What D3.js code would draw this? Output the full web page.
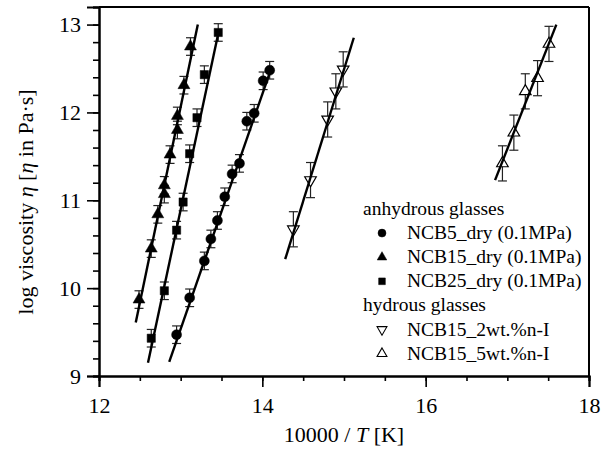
<!DOCTYPE html>
<html><head><meta charset="utf-8">
<script src="https://cdn.jsdelivr.net/npm/d3@7"></script>
<style>
html,body{margin:0;padding:0;background:#fff;}
text{font-family:"Liberation Serif","Times New Roman",serif;fill:#000;}
</style></head>
<body>
<svg id="chart" width="607" height="452"></svg>
<script>
// ---- data ----
const ncb5X  = [12.95,13.11,13.29,13.37,13.45,13.54,13.63,13.72,13.81,13.90,14.01,14.09];
const ncb5Y  = [9.47,9.89,10.31,10.56,10.77,11.04,11.30,11.42,11.90,11.99,12.36,12.48];
const ncb15X = [12.49,12.64,12.72,12.80,12.80,12.87,12.96,12.96,13.04,13.12];
const ncb15Y = [9.87,10.45,10.84,11.07,11.17,11.52,11.80,11.96,12.31,12.75];
const ncb25X = [12.64,12.80,12.95,13.03,13.11,13.20,13.29,13.46];
const ncb25Y = [9.43,9.97,10.66,10.98,11.53,11.94,12.43,12.91];
const h2X    = [14.38,14.59,14.80,14.90,14.99];
const h2Y    = [10.67,11.23,11.92,12.24,12.49];
const h5X    = [16.94,17.08,17.22,17.37,17.51];
const h5Y    = [11.42,11.77,12.24,12.39,12.78];
const errDry = 0.1;
const errHyd = 0.2;
// fitted lines: [x0,y0],[x1,y1]
const fit5   = [[12.86,9.16],[14.12,12.53]];
const fit15  = [[12.45,9.61],[13.21,13.00]];
const fit25  = [[12.60,9.15],[13.47,12.94]];
const fitH2  = [[14.28,10.33],[15.12,12.85]];
const fitH5  = [[16.85,11.23],[17.60,13.00]];
const xMajor = [12,14,16,18];
const yMajor = [9,10,11,12,13];
const legendLabels = ["anhydrous glasses","NCB5_dry (0.1MPa)","NCB15_dry (0.1MPa)","NCB25_dry (0.1MPa)","hydrous glasses","NCB15_2wt.%n-I","NCB15_5wt.%n-I"];

// ---- layout ----
const svg = d3.select("#chart");
const x = d3.scaleLinear().domain([12,18]).range([99,589]);
const y = d3.scaleLinear().domain([9,13.2]).range([376,7]);

// frame top/right
svg.append("line").attr("x1",x(12)).attr("x2",x(18)).attr("y1",y(13.2)).attr("y2",y(13.2)).attr("stroke","#000").attr("stroke-width",2);
svg.append("line").attr("x1",x(18)).attr("x2",x(18)).attr("y1",y(13.2)).attr("y2",y(9)).attr("stroke","#000").attr("stroke-width",2);

// axes
const xMinorAx = d3.axisBottom(x).tickValues(d3.range(12,18.01,0.5)).tickSize(5).tickFormat("");
const xMajorAx = d3.axisBottom(x).tickValues(xMajor).tickSize(11).tickPadding(10).tickFormat(d3.format("d"));
const yMinorAx = d3.axisLeft(y).tickValues(d3.range(9,13.21,0.2)).tickSize(6).tickFormat("");
const yMajorAx = d3.axisLeft(y).tickValues(yMajor).tickSize(12).tickPadding(6).tickFormat(d3.format("d"));

function styleAxis(g){
  g.select(".domain").attr("stroke","#000").attr("stroke-width",2);
  g.selectAll(".tick line").attr("stroke","#000").attr("stroke-width",1.6);
  g.selectAll("text").attr("font-size",22).attr("font-family",'"Liberation Serif","Times New Roman",serif').attr("fill","#000");
}
svg.append("g").attr("transform",`translate(0,${y(9)})`).call(xMinorAx).call(styleAxis);
svg.append("g").attr("transform",`translate(0,${y(9)})`).call(xMajorAx).call(styleAxis);
svg.append("g").attr("transform",`translate(${x(12)},0)`).call(yMinorAx).call(styleAxis);
svg.append("g").attr("transform",`translate(${x(12)},0)`).call(yMajorAx).call(styleAxis);

// axis titles
const xt = svg.append("text").attr("x",344).attr("y",442).attr("text-anchor","middle").attr("font-size",22);
xt.append("tspan").text("10000 / ");
xt.append("tspan").attr("font-style","italic").text("T");
xt.append("tspan").text(" [K]");

const yt = svg.append("text").attr("transform","translate(33,202) rotate(-90)").attr("text-anchor","middle").attr("font-size",22);
yt.append("tspan").text("log viscosity ");
yt.append("tspan").attr("font-style","italic").text("η");
yt.append("tspan").text(" [");
yt.append("tspan").attr("font-style","italic").text("η");
yt.append("tspan").text(" in Pa·s]");

// ---- series ----
const series = [
  {xs:ncb5X, ys:ncb5Y, err:errDry, sym:d3.symbolCircle, size:78, rot:0, fill:"#000", fit:fit5},
  {xs:ncb15X,ys:ncb15Y,err:errDry, sym:d3.symbolTriangle, size:62, rot:0, fill:"#000", fit:fit15},
  {xs:ncb25X,ys:ncb25Y,err:errDry, sym:d3.symbolSquare, size:68, rot:0, fill:"#000", fit:fit25},
  {xs:h2X,   ys:h2Y,   err:errHyd, sym:d3.symbolTriangle, size:58, rot:180, fill:"#fff", fit:fitH2},
  {xs:h5X,   ys:h5Y,   err:errHyd, sym:d3.symbolTriangle, size:58, rot:0, fill:"#fff", fit:fitH5}
];
const cap = 4.5;
series.forEach(s=>{
  const pts = s.xs.map((v,i)=>({x:v,y:s.ys[i]}));
  const g = svg.append("g");
  // error bars
  const eb = g.selectAll(".eb").data(pts).enter().append("g").attr("stroke","#222").attr("stroke-width",1.2);
  eb.append("line").attr("x1",d=>x(d.x)).attr("x2",d=>x(d.x)).attr("y1",d=>y(d.y-s.err)).attr("y2",d=>y(d.y+s.err));
  eb.append("line").attr("x1",d=>x(d.x)-cap).attr("x2",d=>x(d.x)+cap).attr("y1",d=>y(d.y+s.err)).attr("y2",d=>y(d.y+s.err));
  eb.append("line").attr("x1",d=>x(d.x)-cap).attr("x2",d=>x(d.x)+cap).attr("y1",d=>y(d.y-s.err)).attr("y2",d=>y(d.y-s.err));
  // markers
  g.selectAll(".m").data(pts).enter().append("path")
    .attr("d",d3.symbol().type(s.sym).size(s.size))
    .attr("transform",d=>`translate(${x(d.x)},${y(d.y)}) rotate(${s.rot})`)
    .attr("fill",s.fill).attr("stroke","#000").attr("stroke-width",s.fill==="#000"?0.5:1.2);
  // fit line
  g.append("line").attr("x1",x(s.fit[0][0])).attr("y1",y(s.fit[0][1])).attr("x2",x(s.fit[1][0])).attr("y2",y(s.fit[1][1]))
    .attr("stroke","#000").attr("stroke-width",2.4);
});

// ---- legend ----
const lg = svg.append("g");
const rowY = i => 215 + i*24.1;
const legSym = [null,
  {sym:d3.symbolCircle,size:50,rot:0,fill:"#000"},
  {sym:d3.symbolTriangle,size:40,rot:0,fill:"#000"},
  {sym:d3.symbolSquare,size:45,rot:0,fill:"#000"},
  null,
  {sym:d3.symbolTriangle,size:42,rot:180,fill:"#fff"},
  {sym:d3.symbolTriangle,size:42,rot:0,fill:"#fff"}];
legendLabels.forEach((t,i)=>{
  const s = legSym[i];
  lg.append("text").attr("x", s?407:363).attr("y",rowY(i)).attr("font-size",19.5).text(t);
  if(s){
    lg.append("path").attr("d",d3.symbol().type(s.sym).size(s.size)())
      .attr("transform",`translate(382,${rowY(i)-6}) rotate(${s.rot})`)
      .attr("fill",s.fill).attr("stroke","#000").attr("stroke-width",s.fill==="#000"?0.5:1.1);
  }
});
</script>
</body></html>
